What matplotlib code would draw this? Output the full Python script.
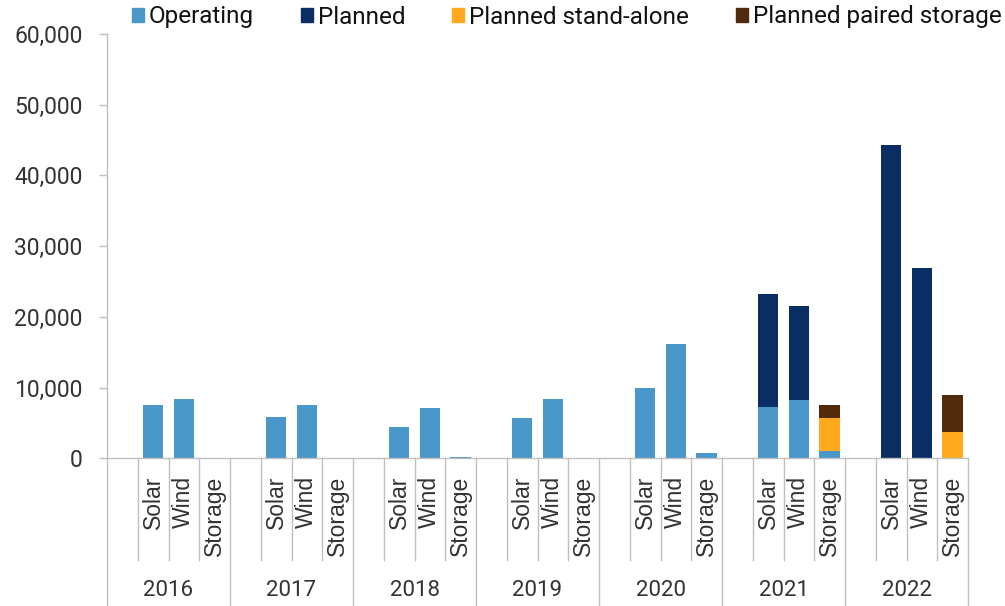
import numpy as np
import matplotlib.pyplot as plt
from matplotlib.patches import Patch
from matplotlib.ticker import FuncFormatter
import matplotlib.transforms as mtransforms

plt.rcParams['font.family'] = ['Roboto', 'DejaVu Sans']

# data (MW)
years = ['2016', '2017', '2018', '2019', '2020', '2021', '2022']
techs = ['Solar', 'Wind', 'Storage']

operating_solar = [7600, 5900, 4450, 5650, 9900, 7300, 0]
operating_wind = [8450, 7500, 7150, 8450, 16100, 8250, 0]
operating_storage = [0, 0, 150, 0, 700, 1100, 0]
planned_solar = [0, 0, 0, 0, 0, 15950, 44250]
planned_wind = [0, 0, 0, 0, 0, 13350, 26900]
standalone_storage = [0, 0, 0, 0, 0, 4550, 3650]
paired_storage = [0, 0, 0, 0, 0, 1850, 5300]

c_op = '#4A97C9'
c_plan = '#0A2D64'
c_alone = '#FFA91E'
c_paired = '#512B0C'
grey = '#BFBFBF'
txt = '#333333'

fig = plt.figure(figsize=(10.05, 6.06), dpi=100)
W, H = 1005, 606
x0, x1, y0, y1 = 107, 968, 458.3, 34
ax = fig.add_axes([x0 / W, (H - y0) / H, (x1 - x0) / W, (y0 - y1) / H])

# each year has 4 slots: blank, Solar, Wind, Storage
base = np.arange(len(years)) * 4
pos_solar = base + 1
pos_wind = base + 2
pos_storage = base + 3
bw = 0.66

ax.bar(pos_solar, operating_solar, bw, color=c_op)
ax.bar(pos_solar, planned_solar, bw, bottom=operating_solar, color=c_plan)
ax.bar(pos_wind, operating_wind, bw, color=c_op)
ax.bar(pos_wind, planned_wind, bw, bottom=operating_wind, color=c_plan)
ax.bar(pos_storage, operating_storage, bw, color=c_op)
ax.bar(pos_storage, standalone_storage, bw, bottom=operating_storage, color=c_alone)
ax.bar(pos_storage, paired_storage, bw,
       bottom=np.array(operating_storage) + np.array(standalone_storage), color=c_paired)

ax.set_xlim(-0.5, len(years) * 4 - 0.5)
ax.set_ylim(0, 60000)
ax.set_yticks(range(0, 60001, 10000))
ax.yaxis.set_major_formatter(FuncFormatter(lambda v, p: f'{int(v):,}'))
ax.set_xticks([])
ax.tick_params(axis='y', direction='out', length=6, width=1, color=grey,
               labelcolor=txt, labelsize=16.5, pad=11.5)
for s in ['top', 'right']:
    ax.spines[s].set_visible(False)
for s in ['left', 'bottom']:
    ax.spines[s].set_color(grey)
    ax.spines[s].set_linewidth(1)

# multi-level category axis
trans = mtransforms.blended_transform_factory(ax.transData, ax.transAxes)
ah = y0 - y1
short_end = -(560 - y0) / ah
long_end = -(620 - y0) / ah
lab_top = -(476 - y0) / ah
year_y = -(591 - y0) / ah

for i, yr in enumerate(years):
    b = base[i]
    ax.plot([b - 0.5, b - 0.5], [0, long_end], color=grey, lw=1, transform=trans, clip_on=False)
    for k in range(3):
        xk = b + 0.5 + k
        ax.plot([xk, xk], [0, short_end], color=grey, lw=1, transform=trans, clip_on=False)
    for k, t in enumerate(techs):
        ax.text(b + 1 + k, lab_top, t, rotation=90, ha='center', va='top',
                fontsize=16.5, color=txt, family=['Liberation Sans', 'DejaVu Sans'],
                transform=trans)
    ax.text(b + 1.5, year_y, yr, ha='center', va='center', fontsize=16,
            color=txt, transform=trans)
last = len(years) * 4 - 0.5
ax.plot([last, last], [0, long_end], color=grey, lw=1, transform=trans, clip_on=False)

handles = [Patch(color=c_op, label='Operating'),
           Patch(color=c_plan, label='Planned'),
           Patch(color=c_alone, label='Planned stand-alone'),
           Patch(color=c_paired, label='Planned paired storage')]
fig.legend(handles=handles, loc='center left', bbox_to_anchor=(132 / W, 1 - 17 / H),
           ncol=4, frameon=False, fontsize=17.5, handlelength=0.5, handleheight=0.5,
           handletextpad=0.2, columnspacing=1.92, borderaxespad=0, borderpad=0,
           labelcolor='#111111')

fig.savefig('out.png', dpi=100)
